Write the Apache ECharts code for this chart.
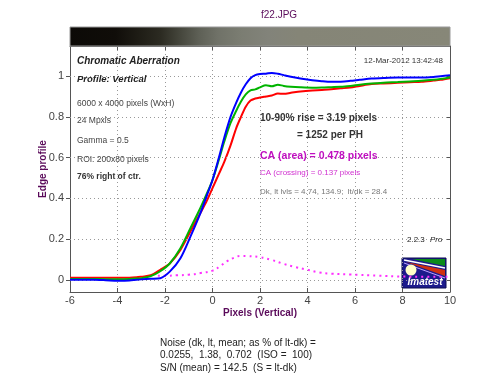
<!DOCTYPE html>
<html><head><meta charset="utf-8">
<script src="https://cdn.jsdelivr.net/npm/echarts@6/dist/echarts.min.js"></script>
<style>html,body{margin:0;padding:0;background:#fff}#c{width:500px;height:384px}</style>
</head><body><div id="c"></div>
<script>
// ---- data ----
const xs = [-6,-5,-4.5,-4,-3.5,-3.2,-3,-2.6,-2.2,-1.8,-1.35,-0.93,-0.5,-0.25,0,0.27,0.5,0.76,1.0,1.2,1.4,1.6,1.8,2.0,2.25,2.5,2.75,3.0,3.3,3.7,4.2,4.6,5.0,5.4,5.8,6.2,6.7,7.2,7.8,8.3,8.8,9.3,9.6,10];
const redVals = [0.01,0.01,0.01,0.01,0.01,0.012,0.015,0.022,0.049,0.08,0.147,0.237,0.33,0.385,0.45,0.52,0.58,0.66,0.745,0.80,0.85,0.88,0.89,0.895,0.90,0.905,0.915,0.913,0.918,0.925,0.93,0.932,0.936,0.94,0.944,0.952,0.961,0.964,0.967,0.97,0.972,0.978,0.982,0.99];
const greenVals = [0.004,0.004,0.003,0.003,0.004,0.006,0.008,0.018,0.042,0.08,0.155,0.253,0.355,0.42,0.49,0.59,0.68,0.77,0.83,0.875,0.91,0.93,0.935,0.945,0.955,0.95,0.958,0.952,0.948,0.945,0.943,0.944,0.946,0.948,0.951,0.958,0.964,0.968,0.971,0.974,0.977,0.982,0.986,0.993];
const blueVals = [0.0,0.0,-0.002,-0.005,-0.004,0.0,0.002,0.005,0.008,0.04,0.106,0.212,0.33,0.41,0.49,0.60,0.70,0.80,0.87,0.92,0.96,0.99,1.005,1.01,1.012,1.016,1.012,1.005,0.997,0.988,0.98,0.975,0.972,0.973,0.977,0.982,0.988,0.991,0.993,0.993,0.993,0.996,1.0,1.005];
const caX = [-2.3,-2.0,-1.5,-1.0,-0.5,0,0.3,0.6,0.9,1.2,1.5,2.0,2.5,3.0,3.5,4.0,4.5,5.0,5.8,7.0,8.0,9.0,10];
const caVals = [0.02,0.02,0.022,0.025,0.033,0.045,0.065,0.09,0.108,0.117,0.116,0.111,0.097,0.078,0.062,0.049,0.036,0.03,0.026,0.02,0.016,0.015,0.015];
const yTicks = [0,0.2,0.4,0.6,0.8,1];
const yTickLabels = ['0','0.2','0.4','0.6','0.8','1'];
const xMin = -6, xMax = 10, xStep = 2;
const yMin = -0.06, yMax = 1.148;

const infoLines = ['6000 x 4000 pixels (WxH)','24 Mpxls','Gamma = 0.5','ROI: 200x80 pixels'];
const noiseLines = ['Noise (dk, lt, mean; as % of lt-dk) =','0.0255,  1.38,  0.702  (ISO =  100)','S/N (mean) = 142.5  (S = lt-dk)'];

const F = "'Liberation Sans', Arial, sans-serif";
const pair = (a,b)=>a.map((v,i)=>[v,b[i]]);
const chart = echarts.init(document.getElementById('c'), null, {renderer:'canvas'});

function txt(text, x, y, size, opts) {
  opts = opts || {};
  return {type:'text', z:50, style:{text:text, x:x, y:y, fill:opts.fill||'#333',
    font:(opts.style||'normal')+' '+(opts.weight||'normal')+' '+size+'px '+F,
    textAlign:opts.align||'left', textVerticalAlign:'middle'}};
}

const graphics = [
  {type:'rect', z:1, shape:{x:70,y:27,width:380,height:19},
   style:{stroke:'#999', lineWidth:1, fill:{type:'linear',x:0,y:0,x2:1,y2:0,colorStops:[
     {offset:0,color:'#0c0a07'},{offset:0.12,color:'#100d09'},{offset:0.18,color:'#1e1c15'},
     {offset:0.24,color:'#2c2b22'},{offset:0.29,color:'#45463c'},{offset:0.34,color:'#5e6056'},
     {offset:0.39,color:'#707268'},{offset:0.45,color:'#7b7d72'},{offset:0.52,color:'#82837a'},
     {offset:0.6,color:'#858577'},{offset:1,color:'#878778'}]}}},
  txt('f22.JPG', 261, 15, 10, {fill:'#5a0a5a', weight:'500'}),
  txt('Chromatic Aberration', 77, 61, 10, {weight:'bold', style:'italic', fill:'#222'}),
  txt('Profile: Vertical', 77, 79, 9.5, {weight:'bold', style:'italic', fill:'#222'}),
  txt('76% right of ctr.', 77, 177, 8.5, {weight:'bold', fill:'#333'}),
  txt('12-Mar-2012 13:42:48', 443, 61, 8, {align:'right', fill:'#333'}),
  txt('10-90% rise = 3.19 pixels', 260, 118, 10, {weight:'bold', fill:'#333'}),
  txt('= 1252 per PH', 297, 135, 10, {weight:'bold', fill:'#333'}),
  txt('CA (area) = 0.478 pixels', 260, 156, 10.5, {weight:'bold', fill:'#c010c0'}),
  txt('CA (crossing) = 0.137 pixels', 260, 173, 8, {fill:'#d030d0'}),
  txt('Dk, lt lvls = 4.74, 134.9;  lt/dk = 28.4', 260, 192, 8, {fill:'#777'}),
  txt('2.2.3  ', 407, 240, 8, {fill:'#222'}),
  txt('Pro', 430, 240, 8, {style:'italic', fill:'#222'}),
  // Imatest logo
  {type:'group', z:60, children:[
    {type:'rect', shape:{x:402,y:258,width:44,height:30}, style:{fill:'#1c1a8c', stroke:'#0a0a50', lineWidth:1}},
    {type:'polygon', shape:{points:[[412,259],[445,259],[445,266]]}, style:{fill:'#0b8a1a'}},
    {type:'polyline', shape:{points:[[404,260],[445,268]]}, style:{stroke:'#ffffff', lineWidth:1.5}},
    {type:'polygon', shape:{points:[[406,262],[445,270],[445,276]]}, style:{fill:'#d03010'}},
    {type:'polyline', shape:{points:[[404,263],[445,278]]}, style:{stroke:'#c0a0ff', lineWidth:1}},
    {type:'circle', shape:{cx:411,cy:270,r:5.5}, style:{fill:'#ffffc8'}},
    {type:'text', style:{text:'Imatest', x:425, y:282, textAlign:'center', textVerticalAlign:'middle', fill:'#fff', font:'italic bold 10px '+F}}
  ]}
];
infoLines.forEach((t,i)=>graphics.push(txt(t, 77, [104,121,141,160][i], 8.5, {fill:'#444'})));
noiseLines.forEach((t,i)=>graphics.push(txt(t, 160, [343,355,368][i], 10, {fill:'#222'})));

const gridY = yTicks.map(v=>({yAxis:v}));
const gridStyle = {type:[1,3], color:'#999999', width:1, opacity:1};

chart.setOption({
  animation:false,
  backgroundColor:'#fff',
  grid:{left:70, right:50, top:46, bottom:92, containLabel:false},
  xAxis:[
    {type:'value', min:xMin, max:xMax, interval:xStep, position:'bottom',
     name:'Pixels (Vertical)', nameLocation:'middle', nameGap:16, nameMoveOverlap:false,
     nameTextStyle:{fontFamily:F, fontSize:10, fontWeight:'bold', color:'#5a0a5a'},
     axisLine:{onZero:false, lineStyle:{color:'#555', width:1}},
     axisTick:{inside:true, length:4, lineStyle:{color:'#555'}},
     axisLabel:{fontFamily:F, fontSize:11, color:'#444', margin:3},
     splitLine:{show:true, lineStyle:gridStyle}},
    {type:'value', min:xMin, max:xMax, interval:xStep, position:'top',
     axisLine:{onZero:false, lineStyle:{color:'#555', width:1}},
     axisTick:{inside:true, length:4, lineStyle:{color:'#555'}},
     axisLabel:{show:false}, splitLine:{show:false}}
  ],
  yAxis:[
    {type:'value', min:yMin, max:yMax, position:'left',
     name:'Edge profile', nameLocation:'middle', nameGap:22, nameRotate:90, nameMoveOverlap:false,
     nameTextStyle:{fontFamily:F, fontSize:10, fontWeight:'bold', color:'#5a0a5a'},
     axisLine:{show:true, onZero:false, lineStyle:{color:'#555', width:1}},
     axisTick:{show:true, inside:false, length:4, customValues:yTicks, lineStyle:{color:'#555'}},
     axisLabel:{fontFamily:F, fontSize:11, color:'#444', margin:6, customValues:yTicks,
       formatter:v=>{const i=yTicks.findIndex(t=>Math.abs(t-v)<1e-9); return i>=0?yTickLabels[i]:'';}},
     splitLine:{show:false}},
    {type:'value', min:yMin, max:yMax, position:'right',
     axisLine:{show:true, onZero:false, lineStyle:{color:'#555', width:1}},
     axisTick:{show:true, inside:true, length:4, customValues:yTicks, lineStyle:{color:'#555'}},
     axisLabel:{show:false}, splitLine:{show:false}}
  ],
  series:[
    {type:'line', name:'CA', data:pair(caX,caVals), showSymbol:false, smooth:true, z:2,
     lineStyle:{color:'#ff30ff', width:2, type:[2,4]},
     markLine:{silent:true, symbol:'none', label:{show:false}, data:gridY,
       lineStyle:gridStyle, emphasis:{disabled:true}, animation:false}},
    {type:'line', name:'Red', data:pair(xs,redVals), showSymbol:false, smooth:0.3, z:3,
     lineStyle:{color:'#ff0000', width:2}},
    {type:'line', name:'Green', data:pair(xs,greenVals), showSymbol:false, smooth:0.3, z:4,
     lineStyle:{color:'#00b400', width:2}},
    {type:'line', name:'Blue', data:pair(xs,blueVals), showSymbol:false, smooth:0.3, z:5,
     lineStyle:{color:'#0000ff', width:2}}
  ],
  graphic:graphics
});
</script></body></html>
